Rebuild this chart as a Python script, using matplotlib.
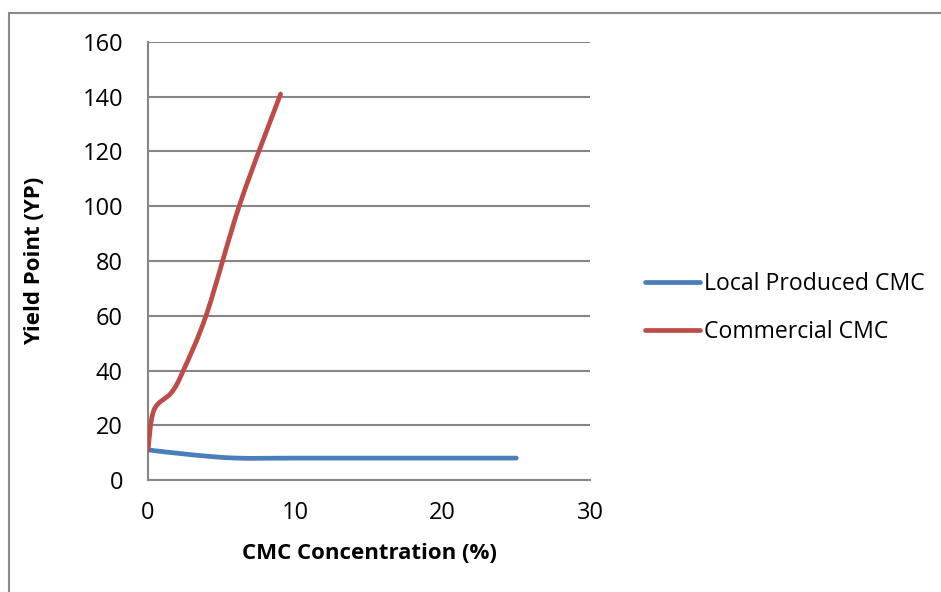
import numpy as np
import matplotlib
matplotlib.use("Agg")
import matplotlib.pyplot as plt
from matplotlib.path import Path
from matplotlib.patches import PathPatch, Rectangle
from matplotlib.lines import Line2D

# CMC concentration (%) vs yield point
local_x = [0, 3, 6, 10, 15, 20, 25]
local_yp = [11, 9.2, 8, 8, 8, 8, 8]
commercial_x = [0, 0.4, 1.6, 2.4, 4, 6.25, 9]
commercial_yp = [11, 25.5, 32, 40, 61, 101, 141]

series_names = ["Local Produced CMC", "Commercial CMC"]
x_ticks = [0, 10, 20, 30]
y_ticks = [0, 20, 40, 60, 80, 100, 120, 140, 160]

BLUE = "#4A7EBB"
RED = "#BE4B48"
GRID = "#868686"

plt.rcParams['font.family'] = ['Open Sans', 'DejaVu Sans']


def smooth_path(xs, ys):
    """Excel-style smoothed line: Catmull-Rom segments as cubic Beziers."""
    pts = np.column_stack([xs, ys]).astype(float)
    n = len(pts)
    verts = [pts[0]]
    codes = [Path.MOVETO]
    for i in range(n - 1):
        p0 = pts[i - 1] if i > 0 else pts[i]
        p1 = pts[i]
        p2 = pts[i + 1]
        p3 = pts[i + 2] if i + 2 < n else pts[i + 1]
        c1 = p1 + (p2 - p0) / 6.0
        c2 = p2 - (p3 - p1) / 6.0
        verts += [c1, c2, p2]
        codes += [Path.CURVE4] * 3
    return Path(verts, codes)


fig = plt.figure(figsize=(9.41, 5.92), dpi=100)
ax = fig.add_axes([148 / 941, 112 / 592, 442 / 941, 438 / 592])

for xs, ys, color in [(local_x, local_yp, BLUE), (commercial_x, commercial_yp, RED)]:
    ax.add_patch(PathPatch(smooth_path(xs, ys), facecolor="none", edgecolor=color,
                           lw=3.4, capstyle="round", joinstyle="round", zorder=3))

ax.set_xlim(0, 30)
ax.set_ylim(0, 160)
ax.set_xticks(x_ticks)
ax.set_yticks(y_ticks)
ax.tick_params(axis="both", length=0, labelsize=17)
ax.tick_params(axis="y", pad=18)
ax.tick_params(axis="x", pad=15)
ax.grid(axis="y", color=GRID, lw=1.5)
ax.set_axisbelow(True)
for side in ["top", "right"]:
    ax.spines[side].set_visible(False)
for side in ["left", "bottom"]:
    ax.spines[side].set_color(GRID)
    ax.spines[side].set_linewidth(1.5)

ax.set_xlabel("CMC Concentration (%)", fontsize=16, fontweight="bold", labelpad=13)
ax.set_ylabel("Yield Point (YP)", fontsize=16, fontweight="bold", labelpad=27)

handles = [Line2D([], [], color=BLUE, lw=3.4, solid_capstyle="round"),
           Line2D([], [], color=RED, lw=3.4, solid_capstyle="round")]
fig.legend(handles, series_names, loc="center left", bbox_to_anchor=(633 / 941, 1 - 308 / 592),
           frameon=False, fontsize=16.6, handlelength=2.4, handletextpad=0.2,
           labelspacing=1.07, borderpad=0)

# outer chart border
fig.add_artist(Rectangle((8.5 / 941, -0.1), 1.2, 1.1 - 12.5 / 592, transform=fig.transFigure,
                         facecolor="none", edgecolor="#898989", lw=1.5))

plt.savefig("out.png", dpi=100)
